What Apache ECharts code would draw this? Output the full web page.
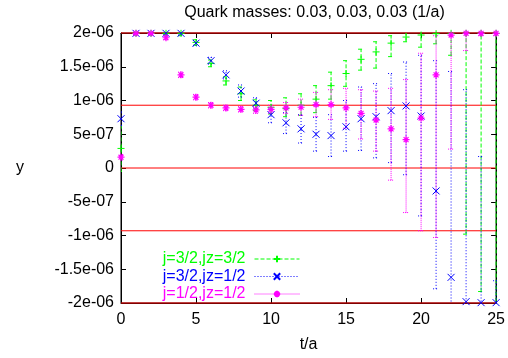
<!DOCTYPE html>
<html>
<head>
<meta charset="utf-8">
<script src="https://cdn.jsdelivr.net/npm/echarts@6/dist/echarts.min.js"></script>
<style>
  html, body { margin: 0; padding: 0; background: #fff; }
  #chart { width: 508px; height: 358px; }
</style>
</head>
<body>
<div id="chart"></div>
<script>
// values in units of 1e-06
const tValues = [0, 1, 2, 3, 4, 5, 6, 7, 8, 9, 10, 11, 12, 13, 14, 15, 16, 17, 18, 19, 20, 21, 22, 23, 24, 25];

const greenVal  = [0.29, 1.995, 1.995, 1.995, 1.995, 1.86, 1.55, 1.29, 1.10, 0.93, 0.90, 0.88, 0.93, 1.02, 1.22, 1.40, 1.61, 1.72, 1.85, 1.94, 1.97, 1.99, 1.995, 1.995, 1.995, 1.995];
const greenLow  = [-0.05, 1.97, 1.97, 1.97, 1.96, 1.82, 1.50, 1.23, 1.00, 0.85, 0.80, 0.76, 0.78, 0.82, 1.02, 1.21, 1.45, 1.48, 1.65, 1.87, 1.79, 1.84, 1.67, -0.98, -1.83, -2.6];
const greenHigh = [0.61, 2.02, 2.02, 2.03, 2.04, 1.90, 1.60, 1.35, 1.20, 1.01, 1.00, 1.04, 1.10, 1.22, 1.42, 1.59, 1.76, 1.87, 1.96, 2.01, 2.15, 2.14, 2.3, 5.0, 5.8, 6.5];

const blueVal  = [0.73, 1.995, 1.995, 1.995, 1.995, 1.85, 1.59, 1.38, 1.14, 0.96, 0.79, 0.67, 0.58, 0.50, 0.48, 0.61, 0.73, 0.76, 0.85, 0.92, 0.77, -0.34, -1.62, -1.98, -1.995, -1.995];
const blueLow  = [0.63, 1.97, 1.97, 1.97, 1.97, 1.81, 1.54, 1.32, 1.05, 0.89, 0.67, 0.51, 0.37, 0.25, 0.17, 0.25, 0.26, 0.15, 0.08, -0.10, -0.71, -1.79, -4.6, -5.1, -4.2, -2.3];
const blueHigh = [0.83, 2.02, 2.02, 2.02, 2.03, 1.89, 1.64, 1.44, 1.23, 1.04, 0.89, 0.82, 0.79, 0.75, 0.79, 1.00, 1.20, 1.25, 1.40, 1.57, 1.67, 1.59, 1.43, 1.16, 0.17, -1.67];

const magVal  = [0.16, 1.995, 1.995, 1.93, 1.38, 1.05, 0.93, 0.89, 0.87, 0.86, 0.87, 0.89, 0.90, 0.94, 0.94, 0.89, 0.81, 0.71, 0.58, 0.42, 0.74, 1.38, 1.97, 1.995, 1.995, 1.995];
const magLow  = [0.12, 1.98, 1.98, 1.90, 1.34, 1.01, 0.89, 0.85, 0.83, 0.81, 0.81, 0.81, 0.78, 0.76, 0.72, 0.59, 0.43, 0.25, -0.18, -0.66, -0.93, -1.03, 0.28, 1.74, 1.96, 1.96];
const magHigh = [0.20, 2.01, 2.01, 1.96, 1.42, 1.09, 0.97, 0.93, 0.91, 0.91, 0.93, 0.97, 1.02, 1.12, 1.16, 1.18, 1.16, 1.14, 1.18, 1.31, 1.70, 1.96, 3.7, 2.3, 2.1, 2.1];

const refLevels = [2, 0.93, 0, -0.93, -2];

const yTicks = [-2, -1.5, -1, -0.5, 0, 0.5, 1, 1.5, 2];
const yTickLabels = ['-2e-06', '-1.5e-06', '-1e-06', '-5e-07', '0', '5e-07', '1e-06', '1.5e-06', '2e-06'];
const seriesNames = ['j=3/2,jz=3/2', 'j=3/2,jz=1/2', 'j=1/2,jz=1/2'];

const FONT = 'Liberation Sans';
const FS = 16;
const GREEN = '#00ff00', BLUE = '#0000ff', MAG = '#ff00ff', RED = '#ff0000';

const PLUS = 'path://M0,5L10,5M5,0L5,10';
const CROSS = 'path://M0,0L10,10M10,0L0,10';
const STAR = 'path://M0,5L10,5M5,0L5,10M1.5,1.5L8.5,8.5M8.5,1.5L1.5,8.5';

function errData(vals, lows, highs) {
  return tValues.map((t, i) => [t, vals[i], lows[i], highs[i]]);
}
function ptData(vals) {
  return tValues.map((t, i) => [t, vals[i]]);
}

function errRenderer(color, dash) {
  return function (params, api) {
    const x = api.value(0);
    const lo = api.coord([x, api.value(2)]);
    const hi = api.coord([x, api.value(3)]);
    const w = 3;
    const style = { stroke: color, lineWidth: 1, lineDash: dash, fill: null };
    return {
      type: 'group',
      children: [
        { type: 'line', shape: { x1: lo[0], y1: lo[1], x2: hi[0], y2: hi[1] }, style },
        { type: 'line', shape: { x1: lo[0] - w, y1: lo[1], x2: lo[0] + w, y2: lo[1] }, style },
        { type: 'line', shape: { x1: hi[0] - w, y1: hi[1], x2: hi[0] + w, y2: hi[1] }, style }
      ]
    };
  };
}

function errSeries(vals, lows, highs, color, dash) {
  return {
    type: 'custom',
    silent: true,
    clip: true,
    renderItem: errRenderer(color, dash),
    encode: { x: 0, y: 1 },
    data: errData(vals, lows, highs)
  };
}

function pointSeries(name, vals, color, symbol, bw) {
  return {
    name,
    type: 'line',
    data: ptData(vals),
    symbol,
    symbolSize: 7,
    showSymbol: true,
    lineStyle: { opacity: 0 },
    itemStyle: { color, borderColor: color, borderWidth: bw },
    clip: true,
    silent: true
  };
}

// horizontal reference lines drawn as custom series across the whole grid
function refRenderer(params, api) {
  const y = api.coord([0, api.value(0)])[1];
  const cs = params.coordSys;
  return {
    type: 'line',
    shape: { x1: cs.x, y1: y, x2: cs.x + cs.width, y2: y },
    style: { stroke: RED, lineWidth: 1 }
  };
}

const chart = echarts.init(document.getElementById('chart'));

const tickStyle = { show: true, inside: true, length: 5, lineStyle: { color: '#000', width: 1 } };
const lineStyle = { show: true, onZero: false, lineStyle: { color: '#000', width: 1 } };

chart.setOption({
  animation: false,
  backgroundColor: '#fff',
  title: {
    text: 'Quark masses: 0.03, 0.03, 0.03 (1/a)',
    left: 309.5,
    textAlign: 'center',
    top: 0,
    textStyle: { fontFamily: FONT, fontSize: FS, fontWeight: 'normal', color: '#000' }
  },
  grid: { left: 121, right: 10, top: 33, bottom: 54, show: true, borderColor: '#000', borderWidth: 1 },
  legend: {
    orient: 'vertical',
    right: 208,
    top: 251,
    align: 'right',
    itemWidth: 45,
    itemHeight: 8,
    itemGap: 1.5,
    padding: 0,
    selectedMode: false,
    textStyle: { fontFamily: FONT, fontSize: FS, lineHeight: 14, padding: [0, 4, 0, 0] },
    data: [
      { name: seriesNames[0], textStyle: { color: GREEN }, lineStyle: { color: GREEN, opacity: 1, width: 1, type: [4, 2] } },
      { name: seriesNames[1], textStyle: { color: BLUE }, lineStyle: { color: BLUE, opacity: 1, width: 1, type: [1, 2] } },
      { name: seriesNames[2], textStyle: { color: MAG }, lineStyle: { color: MAG, opacity: 1, width: 1, type: [1, 1] } }
    ]
  },
  xAxis: [
    {
      type: 'value', min: 0, max: 25, interval: 5,
      position: 'bottom',
      axisLine: lineStyle, axisTick: tickStyle, splitLine: { show: false },
      axisLabel: { margin: 9, fontFamily: FONT, fontSize: FS, color: '#000' },
      name: 't/a', nameLocation: 'middle', nameGap: 34,
      nameTextStyle: { fontFamily: FONT, fontSize: FS, color: '#000' }
    },
    {
      type: 'value', min: 0, max: 25, interval: 5,
      position: 'top',
      axisLine: lineStyle, axisTick: tickStyle, splitLine: { show: false },
      axisLabel: { show: false }
    }
  ],
  yAxis: [
    {
      type: 'value', min: -2, max: 2, interval: 0.5,
      position: 'left',
      axisLine: lineStyle, axisTick: tickStyle, splitLine: { show: false },
      axisLabel: {
        margin: 7, fontFamily: FONT, fontSize: FS, color: '#000',
        formatter: v => yTickLabels[yTicks.indexOf(Math.round(v * 10) / 10)]
      },
      name: 'y', nameLocation: 'middle', nameRotate: 0, nameGap: 97,
      nameTextStyle: { fontFamily: FONT, fontSize: FS, color: '#000' }
    },
    {
      type: 'value', min: -2, max: 2, interval: 0.5,
      position: 'right',
      axisLine: lineStyle, axisTick: tickStyle, splitLine: { show: false },
      axisLabel: { show: false }
    }
  ],
  series: [
    {
      type: 'custom',
      silent: true,
      renderItem: refRenderer,
      encode: { y: 0 },
      data: refLevels.map(v => [v])
    },
    errSeries(greenVal, greenLow, greenHigh, GREEN, [4, 2]),
    pointSeries(seriesNames[0], greenVal, GREEN, PLUS, 1),
    errSeries(blueVal, blueLow, blueHigh, BLUE, [1, 2]),
    pointSeries(seriesNames[1], blueVal, BLUE, CROSS, 1),
    errSeries(magVal, magLow, magHigh, MAG, [1, 1]),
    pointSeries(seriesNames[2], magVal, MAG, STAR, 1.2)
  ]
});
</script>
</body>
</html>
